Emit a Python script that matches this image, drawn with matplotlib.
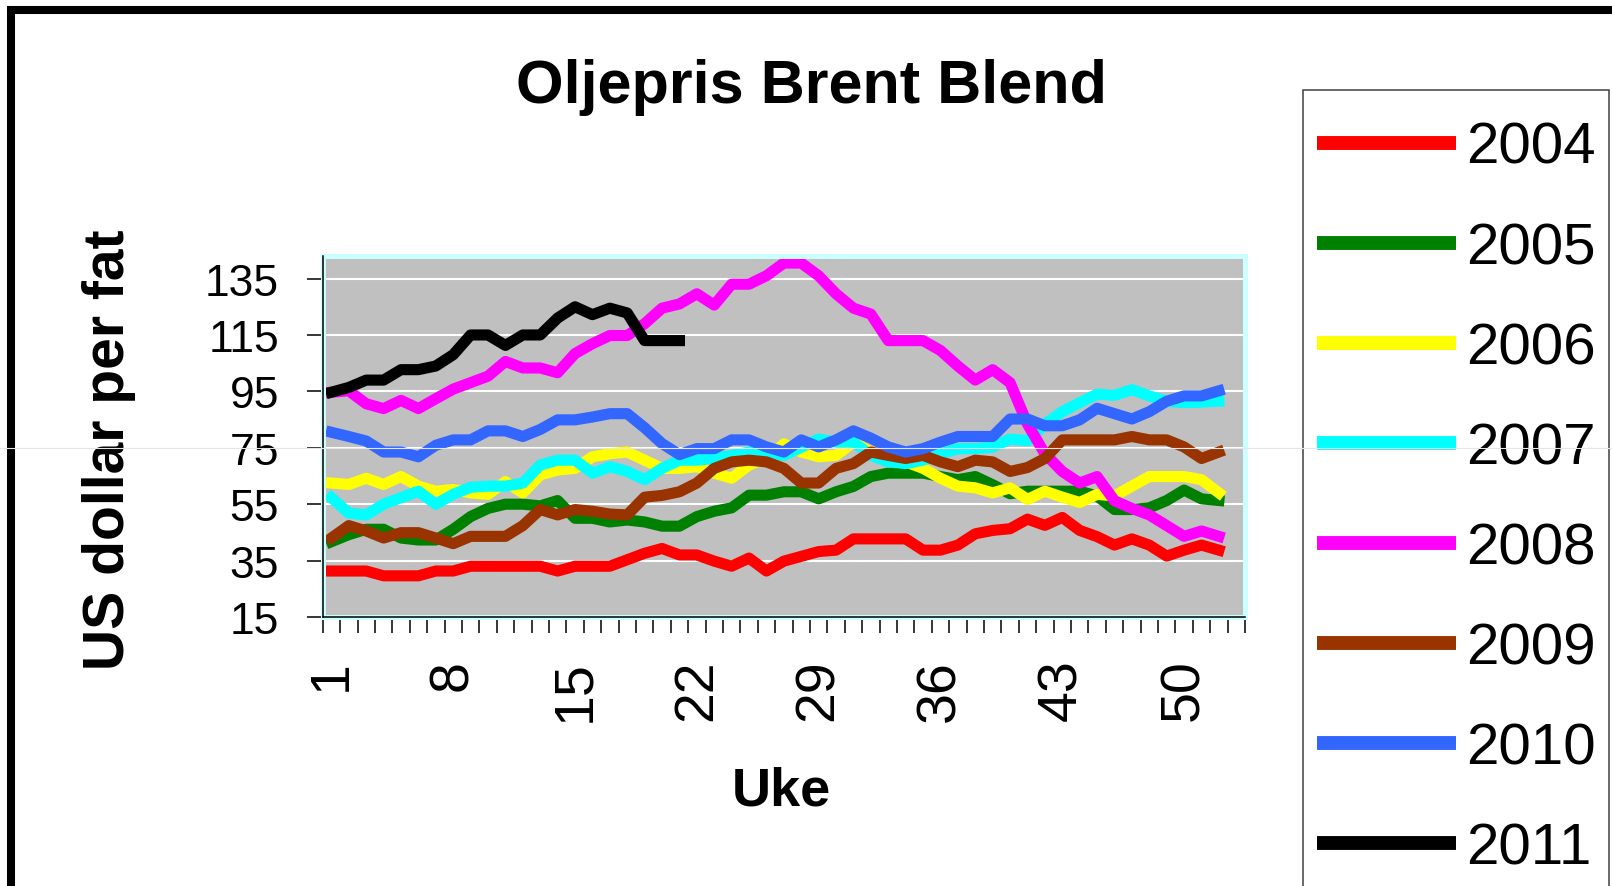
import numpy as np
import matplotlib
matplotlib.use("Agg")
import matplotlib.pyplot as plt
from matplotlib.patches import Rectangle
from matplotlib.lines import Line2D

plt.rcParams["font.family"] = "Liberation Sans"

# ukentlige priser (USD per fat), lest av figuren
years = ["2004", "2005", "2006", "2007", "2008", "2009", "2010", "2011"]
colors = ["#FF0000", "#008000", "#FFFF00", "#00FFFF", "#FF00FF", "#993300", "#3366FF", "#000000"]

pris_2004 = [31.3, 31.3, 31.3, 29.6, 29.6, 29.6, 31.3, 31.3, 33.0, 33.0,
             33.0, 33.0, 33.0, 31.3, 33.0, 33.0, 33.0, 35.3, 37.6, 39.3,
             37.0, 37.0, 34.8, 33.0, 35.9, 31.3, 34.8, 36.5, 38.2, 38.7,
             42.7, 42.7, 42.7, 42.7, 38.7, 38.7, 40.5, 44.5, 45.7, 46.3,
             49.7, 47.5, 50.3, 45.7, 43.5, 40.5, 42.7, 40.5, 36.6, 38.7, 40.5, 38.7]
pris_2005 = [41.7, 44.2, 46.1, 46.1, 43.0, 42.3, 42.3, 46.1, 50.6, 53.5,
             55.0, 55.0, 54.4, 56.3, 50.0, 50.0, 48.7, 49.4, 48.7, 47.2,
             47.2, 50.6, 52.5, 53.7, 58.2, 58.2, 59.4, 59.4, 56.9, 59.4,
             61.3, 64.8, 66.0, 66.0, 66.0, 64.8, 63.7, 64.8, 61.9, 58.7,
             59.6, 59.6, 59.6, 59.6, 57.9, 53.1, 53.1, 53.7, 56.3, 60.0, 56.9, 56.3]
pris_2006 = [62.5, 62.0, 64.2, 62.0, 64.8, 61.4, 59.6, 60.2, 59.0, 58.5,
             63.0, 59.0, 65.4, 67.1, 67.7, 71.8, 72.9, 73.5, 70.6, 67.7,
             67.7, 68.3, 66.0, 64.2, 68.9, 71.2, 76.4, 73.5, 71.8, 72.3,
             77.0, 73.5, 70.6, 70.0, 67.7, 64.2, 61.4, 60.8, 59.0, 60.8,
             56.7, 59.6, 57.5, 55.6, 58.5, 57.9, 61.4, 64.8, 64.8, 64.8, 63.7, 59.0]
pris_2007 = [57.3, 51.8, 51.2, 55.0, 57.3, 59.6, 55.0, 58.5, 61.0, 61.4,
             61.4, 62.5, 68.9, 70.6, 70.6, 66.0, 68.3, 66.6, 63.7, 67.7,
             70.6, 70.6, 71.2, 72.3, 73.5, 72.9, 72.3, 75.2, 78.1, 77.0,
             77.0, 72.3, 70.0, 69.4, 70.6, 72.9, 74.7, 74.7, 75.2, 78.1,
             77.5, 83.4, 87.8, 91.0, 94.0, 93.6, 95.6, 93.4, 91.5, 91.0, 91.2, 91.5]
pris_2008 = [94.7, 95.2, 90.6, 88.9, 91.8, 88.9, 92.4, 95.8, 98.1, 100.4,
             105.6, 103.3, 103.3, 101.6, 108.4, 111.9, 114.8, 114.8, 119.0, 124.5,
             126.0, 129.6, 125.6, 133.0, 133.0, 136.0, 140.5, 140.5, 136.0, 129.6,
             124.5, 122.4, 113.0, 113.0, 113.0, 109.5, 104.0, 99.0, 102.7, 98.1,
             83.4, 72.9, 66.6, 62.5, 64.8, 56.2, 53.5, 51.2, 47.4, 43.6, 45.5, 43.6]
pris_2009 = [43.0, 47.4, 45.5, 43.0, 44.9, 44.9, 43.0, 41.0, 43.6, 43.6,
             43.6, 47.4, 53.1, 51.2, 53.1, 52.5, 51.5, 51.2, 57.5, 58.1,
             59.4, 62.5, 67.7, 70.0, 70.6, 70.0, 67.7, 62.5, 62.5, 67.7,
             69.4, 73.5, 72.3, 71.2, 72.3, 70.0, 68.3, 70.6, 70.0, 66.6,
             68.0, 71.2, 77.8, 77.8, 77.8, 77.8, 79.0, 77.8, 77.8, 75.3, 71.2, 73.5]
pris_2010 = [80.5, 79.0, 77.4, 73.5, 73.5, 71.8, 75.9, 77.8, 77.8, 81.0,
             81.0, 79.0, 81.5, 84.9, 84.9, 85.9, 87.1, 87.1, 82.1, 76.5,
             72.6, 74.7, 74.7, 77.8, 77.8, 75.3, 73.5, 77.8, 75.3, 77.8,
             81.0, 78.4, 75.3, 73.5, 74.7, 77.0, 79.0, 79.0, 79.0, 85.2,
             85.2, 82.8, 82.8, 84.9, 89.0, 87.1, 85.2, 87.8, 91.5, 93.4, 93.4, 95.2]
pris_2011 = [94.7, 96.4, 99.0, 99.0, 102.7, 102.7, 104.0, 108.0, 115.0, 115.0,
             111.3, 115.0, 115.0, 121.0, 125.0, 122.2, 124.5, 122.8, 113.0, 113.0, 113.0]

series = [pris_2004, pris_2005, pris_2006, pris_2007,
          pris_2008, pris_2009, pris_2010, pris_2011]
label_weeks = [1, 8, 15, 22, 29, 36, 43, 50]
y_ticks = [15, 35, 55, 75, 95, 115, 135]

W, H = 1612, 887
fig = plt.figure(figsize=(W / 100, H / 100), dpi=100)
ax = fig.add_axes([322.7 / W, 1 - 618 / H, 922.3 / W, 361 / H])
ax.set_facecolor("#C0C0C0")

for year, col, vals in zip(years, colors, series):
    ax.plot(np.arange(1, len(vals) + 1), vals, color=col, lw=8, label=year,
            solid_joinstyle="round")

ax.set_xlim(0.5, 53.5)
ax.set_ylim(15, 143)
ax.set_yticks(y_ticks)
ax.set_yticklabels([str(v) for v in y_ticks], fontsize=32)
ax.grid(axis="y", color="white", lw=1.5)
ax.set_axisbelow(True)

# kategorigrenser som tick, etiketter midt i kategoriene
ax.set_xticks(np.arange(0.5, 54, 1))
ax.set_xticklabels([])
ax.set_xticks(label_weeks, minor=True)
ax.set_xticklabels([str(w) for w in label_weeks], minor=True, rotation=90, fontsize=40)
ax.tick_params(axis="x", which="minor", length=0, pad=30)
ax.tick_params(axis="both", which="major", length=11.5, width=1.1, direction="out")
ax.tick_params(axis="y", pad=20)

for s in ["top", "right"]:
    ax.spines[s].set_visible(False)
for s in ["left", "bottom"]:
    ax.spines[s].set_linewidth(1.1)
    ax.spines[s].set_zorder(5)
ax.add_patch(Rectangle((0, 0), 1, 1, transform=ax.transAxes, fill=False,
                       edgecolor="#CCFFFF", lw=3.6, clip_on=False, zorder=4))

fig.text(811 / W, 1 - 102.8 / H, "Oljepris Brent Blend", ha="center", va="baseline",
         fontsize=44, fontweight="bold")
ax.set_ylabel("US dollar per fat", fontsize=41, fontweight="bold", va="center")
ax.yaxis.set_label_coords(-0.2317, 0.465)
ax.set_xlabel("Uke", fontsize=39, fontweight="bold", va="center")
ax.xaxis.set_label_coords(0.497, -0.48)

leg = ax.legend(loc="upper left", bbox_to_anchor=(1317 / W, 1 - 122 / H),
                bbox_transform=fig.transFigure, borderaxespad=0, borderpad=0,
                fontsize=42, handlelength=2.38, handletextpad=0.17, labelspacing=0.79,
                frameon=False)
for line in leg.get_lines():
    line.set_linewidth(10)
    line.set_solid_capstyle("butt")

# legendeboksen går ut over kanten av bildet
fig.add_artist(Rectangle((1303 / W, -0.2), 306 / W, 1.2 - 90.7 / H,
                         transform=fig.transFigure, fill=False,
                         edgecolor="#404040", lw=1.1))
# ramme rundt hele diagrammet
fig.add_artist(Rectangle((11 / W, -0.2), 1.2, 1.2 - 11 / H, transform=fig.transFigure,
                         fill=False, edgecolor="black", lw=5.8))
fig.add_artist(Line2D([0, 1], [1 - 449 / H] * 2, transform=fig.transFigure,
                      color="#e6e6e6", lw=0.8, zorder=10))

fig.savefig("out.png", dpi=100)
